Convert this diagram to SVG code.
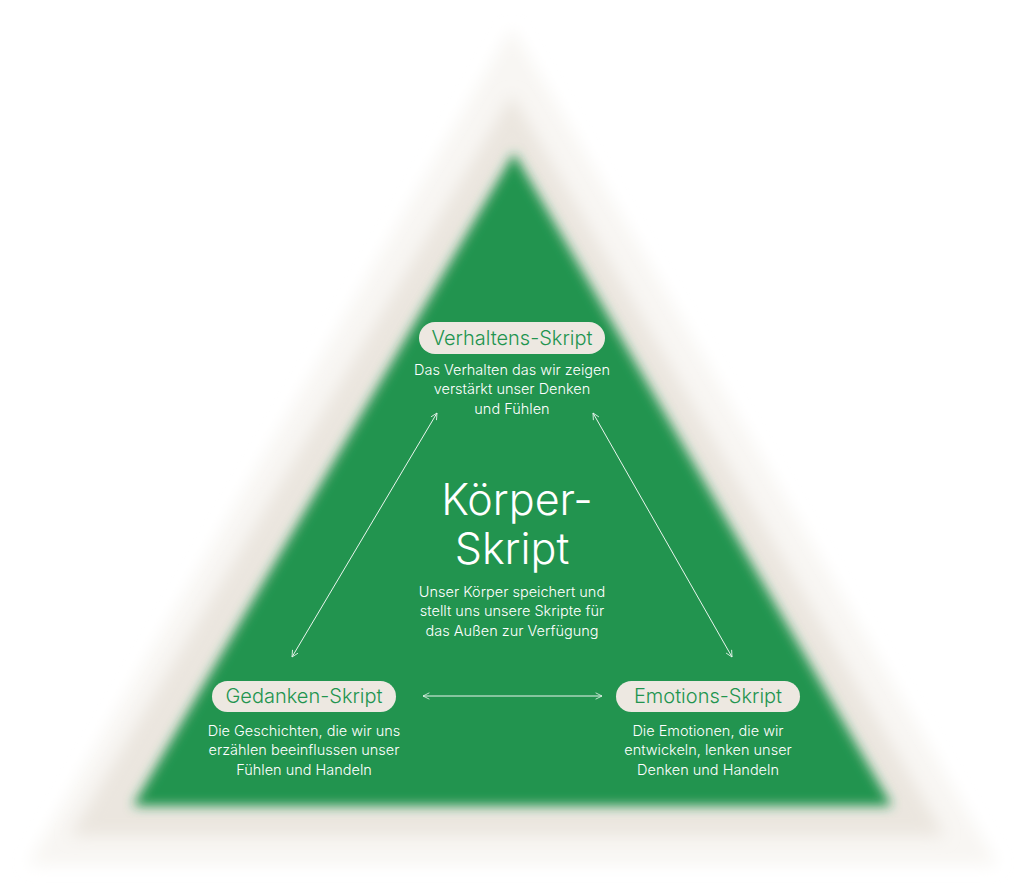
<svg xmlns="http://www.w3.org/2000/svg" width="1024" height="892" viewBox="0 0 1024 892">
<defs>
<filter id="b1" x="-10%" y="-10%" width="120%" height="120%"><feGaussianBlur stdDeviation="8"/></filter>
<filter id="b2" x="-10%" y="-10%" width="120%" height="120%"><feGaussianBlur stdDeviation="6"/></filter>
<marker id="ah" viewBox="0 0 10 10" refX="9" refY="5" markerWidth="8" markerHeight="8" orient="auto-start-reverse" markerUnits="userSpaceOnUse">
<path d="M1,1 L9,5 L1,9" fill="none" stroke="#ffffff" stroke-width="1"/>
</marker>
<style>
.pill{fill:#ede8e1}
.pt{font-family:Inter,"Liberation Sans",sans-serif;font-size:20px;fill:#22944f;text-anchor:middle;font-weight:300}
.d{font-family:Inter,"Liberation Sans",sans-serif;font-size:14.5px;fill:#ffffff;text-anchor:middle;font-weight:300}
.big{font-family:Inter,"Liberation Sans",sans-serif;font-size:43px;fill:#ffffff;text-anchor:middle;font-weight:300}
.c{stroke:#ffffff;stroke-width:1;fill:none;opacity:0.9}
</style>
</defs>
<rect width="1024" height="892" fill="#ffffff"/>
<g id="background">
<polygon points="512,28 998,865 28,865" fill="#f8f6f3" filter="url(#b1)"/>
<polygon points="512,95 945,836 70,836" fill="#ebe6df" filter="url(#b1)"/>
<polygon points="514,153 892,806 133,806" fill="#22944f" filter="url(#b2)"/>
</g>
<g id="connectors">
<line class="c" x1="437" y1="413" x2="292" y2="657" marker-start="url(#ah)" marker-end="url(#ah)"/>
<line class="c" x1="593" y1="413" x2="732" y2="657" marker-start="url(#ah)" marker-end="url(#ah)"/>
<line class="c" x1="423" y1="696" x2="602" y2="696" marker-start="url(#ah)" marker-end="url(#ah)"/>
</g>
<g id="center">
<text class="big" x="517" y="515">Körper-</text>
<text class="big" x="512" y="564">Skript</text>
<text class="d" x="512" y="597">Unser Körper speichert und</text>
<text class="d" x="512" y="616">stellt uns unsere Skripte für</text>
<text class="d" x="512" y="636">das Außen zur Verfügung</text>
</g>
<g id="verhaltens">
<rect class="pill" x="419" y="322" width="186" height="32" rx="16"/>
<text class="pt" x="512" y="345">Verhaltens-Skript</text>
<text class="d" x="512" y="375">Das Verhalten das wir zeigen</text>
<text class="d" x="512" y="394">verstärkt unser Denken</text>
<text class="d" x="512" y="414">und Fühlen</text>
</g>
<g id="gedanken">
<rect class="pill" x="212" y="681" width="184" height="31" rx="15.5"/>
<text class="pt" x="304" y="703">Gedanken-Skript</text>
<text class="d" x="304" y="736">Die Geschichten, die wir uns</text>
<text class="d" x="304" y="755">erzählen beeinflussen unser</text>
<text class="d" x="304" y="775">Fühlen und Handeln</text>
</g>
<g id="emotions">
<rect class="pill" x="616" y="681" width="184" height="31" rx="15.5"/>
<text class="pt" x="708" y="703">Emotions-Skript</text>
<text class="d" x="708" y="736">Die Emotionen, die wir</text>
<text class="d" x="708" y="755">entwickeln, lenken unser</text>
<text class="d" x="708" y="775">Denken und Handeln</text>
</g>
</svg>
